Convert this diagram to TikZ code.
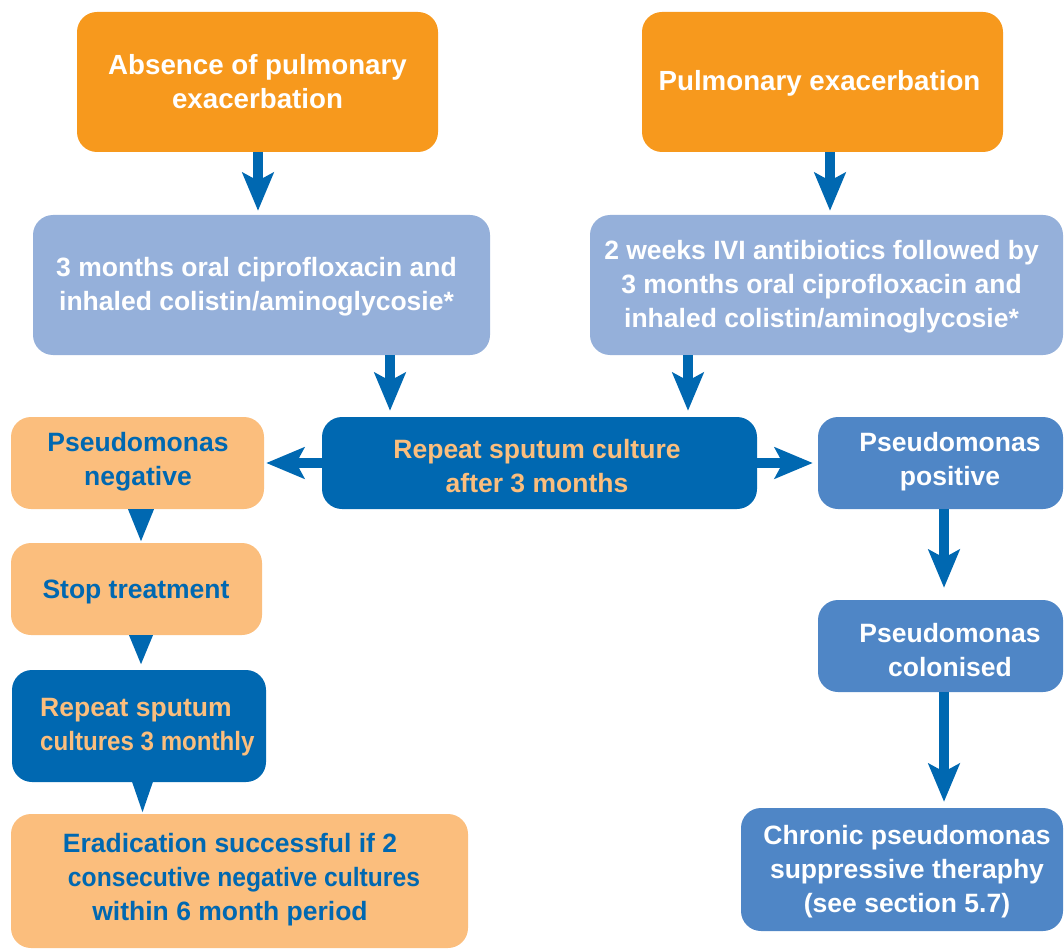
\documentclass[tikz,border=0pt]{standalone}
\usepackage{fontspec}
\usepackage{graphicx}
\setmainfont{Liberation Sans}
\usetikzlibrary{arrows.meta,calc}

\definecolor{exorange}{HTML}{F7991D}
\definecolor{lightblue}{HTML}{95B0DA}
\definecolor{darkblue}{HTML}{0068B1}
\definecolor{paleorange}{HTML}{FBBE7D}
\definecolor{midblue}{HTML}{4F86C6}

\tikzset{
  panel/.style={rounded corners=20pt, inner sep=0pt, draw=none},
  txt/.style={align=center, inner sep=0pt,
    font=\fontsize{26.5}{34}\selectfont\bfseries},
  bigtxt/.style={txt, font=\fontsize{27.7}{34}\selectfont\bfseries},
  flow/.style={draw=darkblue, line width=10.5pt,
    -{Stealth[length=38pt, width=31pt, inset=8pt]}},
  pointer/.style={fill=darkblue}
}

\begin{document}
\begin{tikzpicture}[x=1pt, y=-1pt]
\useasboundingbox (0,0) rectangle (1064,949);

% boxes
\node[panel, fill=exorange,   minimum width=361pt, minimum height=140pt] (b1)  at (257.5,82)  {};
\node[panel, fill=exorange,   minimum width=361pt, minimum height=140pt] (b2)  at (822.5,82)  {};
\node[panel, fill=lightblue,  minimum width=457pt, minimum height=140pt] (b3)  at (261.5,285) {};
\node[panel, fill=lightblue,  minimum width=473pt, minimum height=140pt] (b4)  at (826.5,285) {};
\node[panel, fill=darkblue,   minimum width=435pt, minimum height=92pt]  (b5)  at (539.5,463) {};
\node[panel, fill=paleorange, minimum width=253pt, minimum height=92pt]  (b6)  at (137.5,463) {};
\node[panel, fill=paleorange, minimum width=251pt, minimum height=92pt]  (b7)  at (136.5,589) {};
\node[panel, fill=darkblue,   minimum width=254pt, minimum height=112pt] (b8)  at (139,726)   {};
\node[panel, fill=paleorange, minimum width=457pt, minimum height=134pt] (b9)  at (239.5,881) {};
\node[panel, fill=midblue,    minimum width=245pt, minimum height=92pt]  (b10) at (940.5,463) {};
\node[panel, fill=midblue,    minimum width=245pt, minimum height=92pt]  (b11) at (940.5,646) {};
\node[panel, fill=midblue,    minimum width=322pt, minimum height=123pt] (b12) at (902,869.5) {};

% texts
\node[bigtxt, text=white] (t1) at (257.5,82) {Absence of pulmonary\\exacerbation};
\node[bigtxt, text=white] (t2) at (819.5,83) {Pulmonary exacerbation};
\node[txt, text=white] (t3) at (256.5,286.5) {3 months oral ciprofloxacin and\\inhaled colistin/aminoglycosie*};
\node[txt, text=white] (t4) at (821.5,287) {2 weeks IVI antibiotics followed by\\3 months oral ciprofloxacin and\\inhaled colistin/aminoglycosie*};
\node[txt, text=paleorange] (t5) at (537,466) {Repeat sputum culture\\after 3 months};
\node[txt, text=darkblue] (t6) at (138,462) {Pseudomonas\\negative};
\node[txt, text=darkblue] (t7) at (136,592) {Stop treatment};
\node[txt, text=paleorange, align=left, anchor=west] (t8) at (40,727)
  {Repeat sputum\\\scalebox{0.91}[1]{cultures 3 monthly}};
\node[txt, text=darkblue] (t9) at (230,880) {Eradication successful if 2\\\hspace*{28pt}\scalebox{0.93}[1]{consecutive negative cultures}\\within 6 month period};
\node[txt, text=white] (t10) at (950,462) {Pseudomonas\\positive};
\node[txt, text=white] (t11) at (950,650.5) {Pseudomonas\\colonised};
\node[txt, text=white] (t12) at (907,872) {Chronic pseudomonas\\suppressive theraphy\\(see section 5.7)};

% arrows
\draw[flow, shorten >=4pt] ($(b1.south)+(0.5,0)$) -- ($(b3.north)+(-3.5,0)$);
\draw[flow, shorten >=4pt] ($(b2.south)+(7.5,0)$) -- ($(b4.north)+(3.5,0)$);
\draw[flow, shorten >=6pt] ($(b3.south)+(128.5,0)$) -- ($(b5.north)+(-149.5,0)$);
\draw[flow, shorten >=6pt] ($(b4.south)+(-138.5,0)$) -- ($(b5.north)+(148.5,0)$);
\draw[flow, shorten >=2pt] (b5.west) -- (b6.east);
\draw[flow, shorten >=5pt] (b5.east) -- (b10.west);
\draw[flow, shorten >=12pt] ($(b10.south)+(3.5,0)$) -- ($(b11.north)+(3.5,0)$);
\draw[flow, shorten >=6pt] ($(b11.south)+(3.5,0)$) -- ($(b12.north)+(42,0)$);

% triangular pointers on the left column
\fill[pointer] ($(b6.south)+(-9.5,0)$) -- ($(b6.south)+(16.5,0)$) -- ($(b6.south)+(3.5,32)$) -- cycle;
\fill[pointer] ($(b7.south)+(-7.5,0)$) -- ($(b7.south)+(16.5,0)$) -- ($(b7.south)+(4.5,29)$) -- cycle;
\fill[pointer] ($(b8.south)+(-7.5,-2)$) -- ($(b8.south)+(14.5,-2)$) -- ($(b8.south)+(3.5,30)$) -- cycle;
\end{tikzpicture}
\end{document}
